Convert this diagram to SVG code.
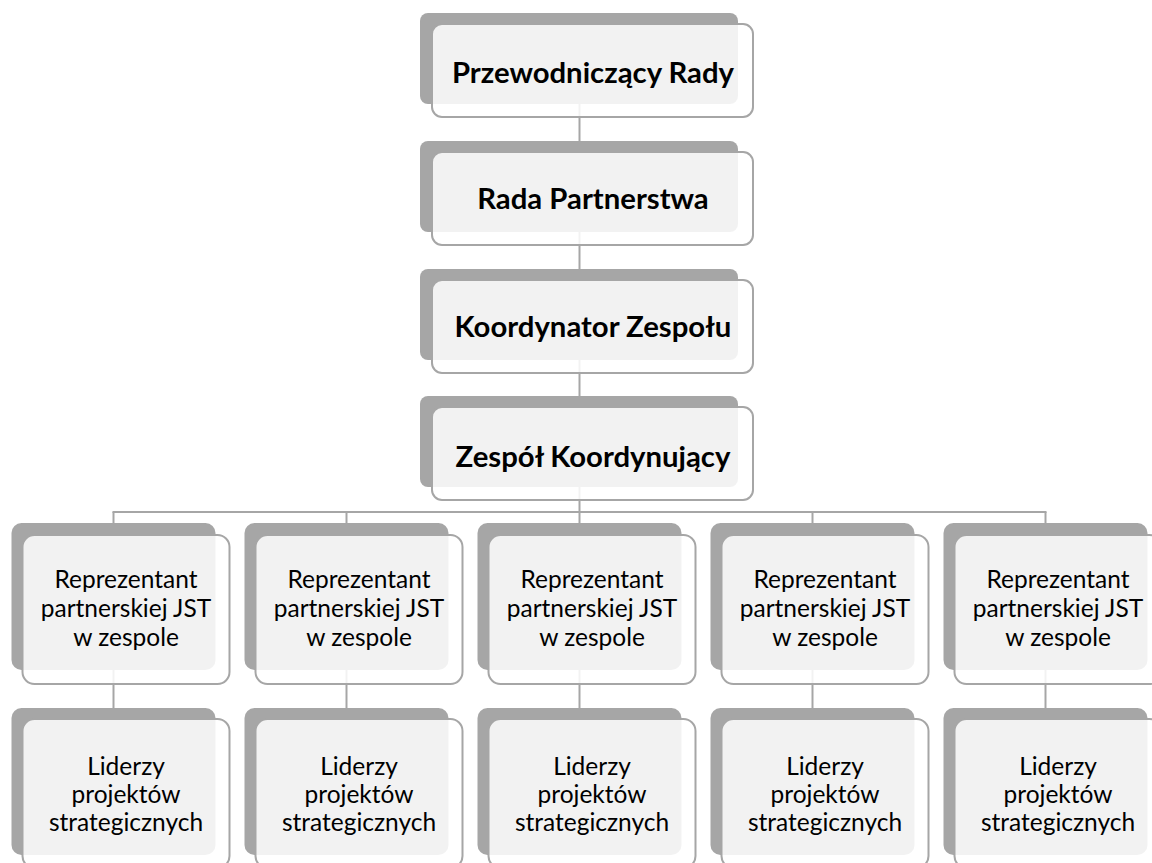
<svg xmlns="http://www.w3.org/2000/svg" width="1152" height="863" viewBox="0 0 1152 863">
<style>
.bk{fill:#a6a6a6}
.fr{fill:#ffffff;fill-opacity:0.86;stroke:#a6a6a6;stroke-width:2}
.t1{font-family:Lato,"Open Sans","Liberation Sans",sans-serif;font-weight:bold;font-size:29.3px;fill:#000;text-anchor:middle}
.t2{font-family:Lato,"Open Sans","Liberation Sans",sans-serif;font-size:24.5px;fill:#000;text-anchor:middle}
.cn{stroke:#a6a6a6;stroke-width:2;fill:none}
</style>
<rect width="1152" height="863" fill="#ffffff"/>
<g id="connectors" class="cn">
<line x1="579.5" y1="104" x2="579.5" y2="141"/>
<line x1="579.5" y1="232" x2="579.5" y2="269"/>
<line x1="579.5" y1="360" x2="579.5" y2="396"/>
<line x1="579.5" y1="487" x2="579.5" y2="512"/>
<line x1="112.5" y1="512" x2="1046.5" y2="512"/>
<line x1="113.5" y1="512" x2="113.5" y2="523"/>
<line x1="346.5" y1="512" x2="346.5" y2="523"/>
<line x1="579.5" y1="512" x2="579.5" y2="523"/>
<line x1="812.5" y1="512" x2="812.5" y2="523"/>
<line x1="1045.5" y1="512" x2="1045.5" y2="523"/>
<line x1="113.5" y1="670" x2="113.5" y2="708"/>
<line x1="346.5" y1="670" x2="346.5" y2="708"/>
<line x1="579.5" y1="670" x2="579.5" y2="708"/>
<line x1="812.5" y1="670" x2="812.5" y2="708"/>
<line x1="1045.5" y1="670" x2="1045.5" y2="708"/>
</g>
<g id="n1"><rect class="bk" x="420" y="13" width="318" height="91" rx="8"/><rect class="fr" x="432" y="24" width="321" height="93" rx="10"/><text class="t1" x="593" y="83">Przewodniczący Rady</text></g>
<g id="n2"><rect class="bk" x="420" y="141" width="318" height="91" rx="8"/><rect class="fr" x="432" y="152" width="321" height="93" rx="10"/><text class="t1" x="593" y="209">Rada Partnerstwa</text></g>
<g id="n3"><rect class="bk" x="420" y="269" width="318" height="91" rx="8"/><rect class="fr" x="432" y="280" width="321" height="93" rx="10"/><text class="t1" x="593" y="337">Koordynator Zespołu</text></g>
<g id="n4"><rect class="bk" x="420" y="396" width="318" height="91" rx="8"/><rect class="fr" x="432" y="407" width="321" height="93" rx="10"/><text class="t1" x="593" y="467">Zespół Koordynujący</text></g>

<g id="r1"><rect class="bk" x="11.5" y="523" width="204" height="147" rx="10"/><rect class="fr" x="22.5" y="535" width="207" height="149" rx="12"/><text class="t2" x="126"><tspan x="126" y="588">Reprezentant</tspan><tspan x="126" y="617">partnerskiej JST</tspan><tspan x="126" y="646">w zespole</tspan></text></g>
<g id="r2"><rect class="bk" x="244.5" y="523" width="204" height="147" rx="10"/><rect class="fr" x="255.5" y="535" width="207" height="149" rx="12"/><text class="t2" x="359"><tspan x="359" y="588">Reprezentant</tspan><tspan x="359" y="617">partnerskiej JST</tspan><tspan x="359" y="646">w zespole</tspan></text></g>
<g id="r3"><rect class="bk" x="477.5" y="523" width="204" height="147" rx="10"/><rect class="fr" x="488.5" y="535" width="207" height="149" rx="12"/><text class="t2" x="592"><tspan x="592" y="588">Reprezentant</tspan><tspan x="592" y="617">partnerskiej JST</tspan><tspan x="592" y="646">w zespole</tspan></text></g>
<g id="r4"><rect class="bk" x="710.5" y="523" width="204" height="147" rx="10"/><rect class="fr" x="721.5" y="535" width="207" height="149" rx="12"/><text class="t2" x="825"><tspan x="825" y="588">Reprezentant</tspan><tspan x="825" y="617">partnerskiej JST</tspan><tspan x="825" y="646">w zespole</tspan></text></g>
<g id="r5"><rect class="bk" x="943.5" y="523" width="204" height="147" rx="10"/><rect class="fr" x="954.5" y="535" width="207" height="149" rx="12"/><text class="t2" x="1058"><tspan x="1058" y="588">Reprezentant</tspan><tspan x="1058" y="617">partnerskiej JST</tspan><tspan x="1058" y="646">w zespole</tspan></text></g>

<g id="l1"><rect class="bk" x="11.5" y="708" width="204" height="147" rx="10"/><rect class="fr" x="22.5" y="719" width="207" height="149" rx="12"/><text class="t2" x="126"><tspan x="126" y="775">Liderzy</tspan><tspan x="126" y="803">projektów</tspan><tspan x="126" y="831">strategicznych</tspan></text></g>
<g id="l2"><rect class="bk" x="244.5" y="708" width="204" height="147" rx="10"/><rect class="fr" x="255.5" y="719" width="207" height="149" rx="12"/><text class="t2" x="359"><tspan x="359" y="775">Liderzy</tspan><tspan x="359" y="803">projektów</tspan><tspan x="359" y="831">strategicznych</tspan></text></g>
<g id="l3"><rect class="bk" x="477.5" y="708" width="204" height="147" rx="10"/><rect class="fr" x="488.5" y="719" width="207" height="149" rx="12"/><text class="t2" x="592"><tspan x="592" y="775">Liderzy</tspan><tspan x="592" y="803">projektów</tspan><tspan x="592" y="831">strategicznych</tspan></text></g>
<g id="l4"><rect class="bk" x="710.5" y="708" width="204" height="147" rx="10"/><rect class="fr" x="721.5" y="719" width="207" height="149" rx="12"/><text class="t2" x="825"><tspan x="825" y="775">Liderzy</tspan><tspan x="825" y="803">projektów</tspan><tspan x="825" y="831">strategicznych</tspan></text></g>
<g id="l5"><rect class="bk" x="943.5" y="708" width="204" height="147" rx="10"/><rect class="fr" x="954.5" y="719" width="207" height="149" rx="12"/><text class="t2" x="1058"><tspan x="1058" y="775">Liderzy</tspan><tspan x="1058" y="803">projektów</tspan><tspan x="1058" y="831">strategicznych</tspan></text></g>
</svg>
